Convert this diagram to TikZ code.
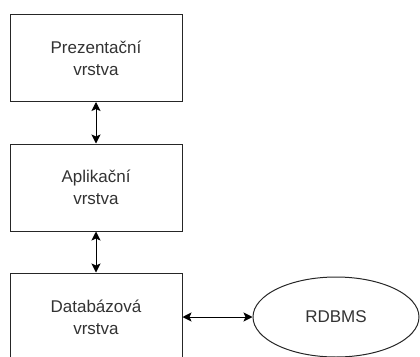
\documentclass[tikz,border=0pt]{standalone}
\usepackage{fontspec}
\setmainfont{Liberation Sans}
\usetikzlibrary{arrows.meta,shapes.geometric}
\definecolor{txt}{HTML}{333333}
\tikzset{
  layer/.style={draw=black!85, line width=1pt, fill=white, minimum width=172pt, minimum height=87pt, inner sep=0pt, align=center, font=\fontsize{17pt}{22pt}\selectfont, text=txt},
  db/.style={ellipse, draw=black!85, line width=1pt, minimum width=166pt, minimum height=80pt, inner sep=0pt, font=\fontsize{17pt}{22pt}\selectfont, text=txt},
  conn/.style={line width=1pt, {Stealth[length=9pt,width=9pt,inset=2pt]}-{Stealth[length=9pt,width=9pt,inset=2pt]}}
}
\begin{document}
\begin{tikzpicture}[x=1pt,y=-1pt]
\useasboundingbox (0,0) rectangle (420,356);
\clip (0,0) rectangle (420,356);
\node[layer] (pres) at (96,58) {Prezentační\\vrstva};
\node[layer] (app) at (96,187.5) {Aplikační\\vrstva};
\node[layer, minimum height=89pt] (data) at (96,317.5) {Databázová\\vrstva};
\node[db] (rdbms) at (336,317) {RDBMS};
\draw[conn] (pres.south) -- (app.north);
\draw[conn] (app.south) -- (data.north);
\draw[conn] (data.east |- rdbms.west) -- (rdbms.west);
\end{tikzpicture}
\end{document}
